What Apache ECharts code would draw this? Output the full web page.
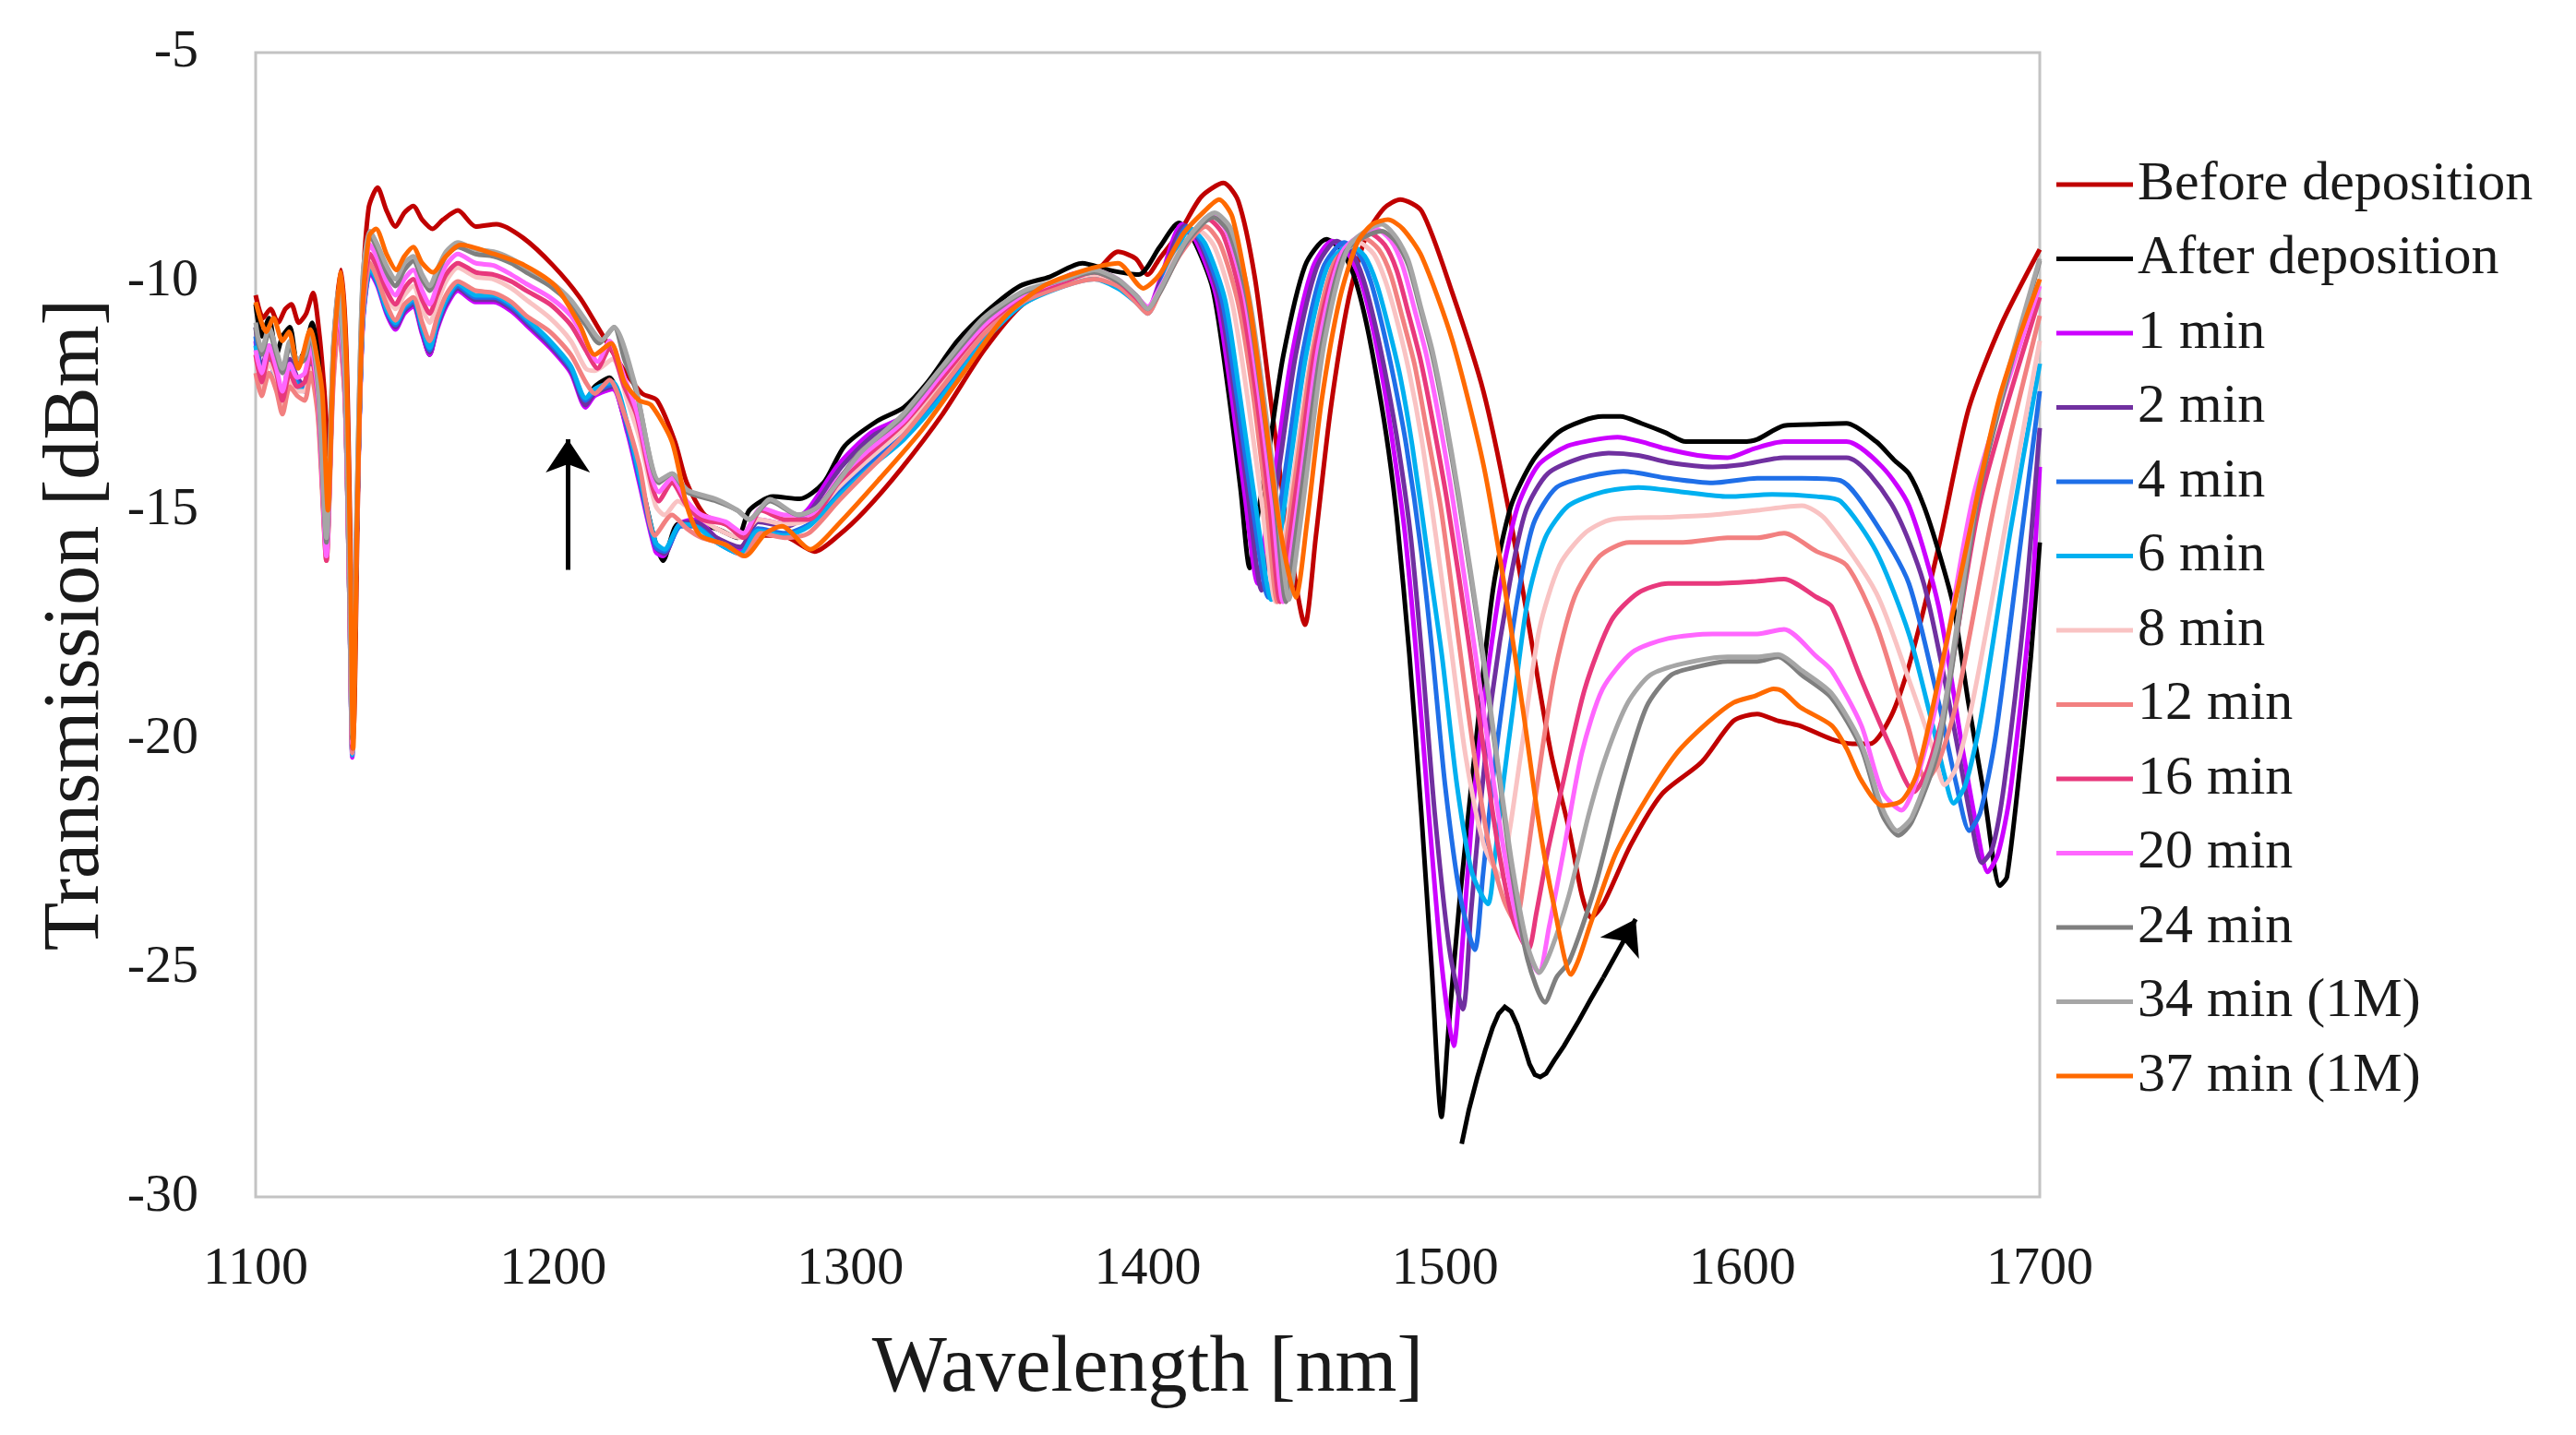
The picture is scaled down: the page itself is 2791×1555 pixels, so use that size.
<!DOCTYPE html>
<html>
<head>
<meta charset="utf-8">
<script src="https://cdn.jsdelivr.net/npm/echarts@6/dist/echarts.min.js"></script>
<style>
    html, body { margin: 0; padding: 0; background: #ffffff; }
    #chart { width: 2791px; height: 1555px; }
</style>
</head>
<body>
<div id="chart"></div>
<script>
// transmission spectra, [wavelength nm, dBm]
var before = [[1100,-10.3],[1102.5,-10.8],[1105,-10.6],[1107.5,-10.9],[1110,-10.6],[1112,-10.5],[1114.5,-10.9],[1117,-10.7],[1119.3,-10.25],[1121.5,-11.2],[1123,-12.3],[1124.7,-13.8],[1126.3,-11.3],[1128.7,-9.75],[1130.5,-11.5],[1131.8,-15.5],[1133,-19.7],[1134.3,-15.0],[1135.8,-10.5],[1138,-8.4],[1141,-7.95],[1144,-8.45],[1147,-8.8],[1150,-8.5],[1153,-8.35],[1156,-8.65],[1159.5,-8.85],[1163,-8.65],[1168,-8.45],[1174,-8.8],[1181,-8.75],[1190,-9.05],[1200,-9.65],[1209,-10.35],[1216,-11.1],[1224,-11.95],[1230,-12.45],[1235,-12.6],[1241,-13.5],[1245,-14.4],[1251,-15.1],[1258,-15.3],[1266,-15.55],[1277,-15.55],[1288,-15.9],[1296,-15.55],[1305,-15.0],[1317,-14.1],[1331,-12.9],[1345,-11.5],[1358,-10.5],[1372,-10.05],[1383,-9.75],[1390,-9.35],[1396,-9.5],[1400,-9.85],[1404,-9.5],[1411,-8.9],[1418,-8.15],[1425.5,-7.85],[1430.5,-8.25],[1436,-9.9],[1441,-12.4],[1447,-15.4],[1452.9,-17.5],[1456.5,-15.6],[1461.5,-12.8],[1467.5,-10.4],[1473.5,-9.0],[1479.5,-8.4],[1484.9,-8.21],[1492.2,-8.47],[1502.5,-10.26],[1512.9,-12.4],[1521.2,-14.92],[1528.4,-17.6],[1535.6,-20.3],[1541.8,-22.0],[1546,-23.4],[1549.1,-23.9],[1553.2,-23.6],[1562.5,-22.3],[1572.9,-21.2],[1586.3,-20.5],[1597,-19.6],[1605,-19.45],[1612,-19.6],[1619,-19.7],[1630,-20.0],[1637,-20.1],[1643,-20.1],[1650,-19.5],[1656,-18.4],[1666,-15.8],[1676,-12.8],[1687,-10.95],[1700,-9.3]];

var after = [[1100,-10.5],[1102,-11.2],[1104.5,-10.8],[1107,-11.6],[1109,-11.2],[1111.5,-11.0],[1114,-11.8],[1116.5,-11.5],[1119,-10.9],[1121.5,-12.0],[1123.8,-15.6],[1126,-12.0],[1128,-10.6],[1130,-12.2],[1131.5,-16.5],[1132.6,-20.2],[1134,-15.5],[1136,-10.8],[1138.5,-9.7],[1141,-10.0],[1144,-10.6],[1147,-11.0],[1150,-10.6],[1153,-10.5],[1156,-11.1],[1158.5,-11.6],[1161,-11.0],[1164,-10.5],[1168,-10.15],[1174,-10.4],[1180,-10.4],[1186,-10.6],[1191,-10.9],[1199,-11.35],[1206,-11.9],[1211,-12.6],[1214,-12.3],[1219,-12.1],[1224,-13.0],[1229,-14.2],[1234,-15.6],[1237,-16.1],[1242,-15.3],[1247,-15.3],[1255,-15.4],[1262,-15.6],[1266,-15.0],[1274,-14.7],[1283,-14.75],[1291,-14.4],[1298,-13.6],[1309,-13.05],[1318,-12.75],[1326,-12.2],[1336,-11.3],[1346,-10.65],[1357,-10.1],[1367,-9.9],[1378,-9.6],[1387,-9.75],[1397,-9.85],[1404,-9.25],[1410.5,-8.72],[1415.5,-9.1],[1421.9,-10.17],[1427,-12.34],[1431.2,-14.52],[1434.3,-16.26],[1437.3,-15.0],[1440.5,-13.8],[1445.6,-11.62],[1452.9,-9.66],[1460.1,-9.08],[1465,-9.3],[1469.4,-9.88],[1473.5,-10.9],[1477.7,-12.34],[1481,-13.7],[1483.9,-15.24],[1488,-18.15],[1492,-21.6],[1495.5,-25.0],[1498.8,-28.25],[1501.2,-26.3],[1504.8,-23.6],[1510,-20.3],[1516.2,-16.7],[1522.2,-14.9],[1529.7,-13.9],[1538,-13.3],[1546,-13.05],[1553,-12.95],[1559,-12.95],[1566,-13.1],[1574,-13.3],[1581,-13.5],[1590,-13.5],[1600,-13.5],[1605,-13.45],[1614,-13.15],[1625,-13.12],[1635,-13.1],[1645,-13.5],[1651,-13.9],[1656,-14.2],[1661,-14.9],[1666,-15.9],[1671,-17.1],[1676,-19.2],[1681.5,-21.3],[1686.6,-23.2],[1689,-23.0],[1694,-20.2],[1697,-18.2],[1700,-15.7]];

var min1 = [[1100,-11.3],[1102,-12.2],[1104.5,-11.6],[1107,-12.3],[1109,-12.6],[1111.5,-11.9],[1114,-12.3],[1116.5,-12.4],[1118.5,-11.9],[1121,-12.8],[1123.8,-15.9],[1126,-12.2],[1127.8,-10.9],[1130,-12.5],[1131.5,-16.8],[1132.5,-20.4],[1134,-15.5],[1136,-11.0],[1138.5,-9.8],[1141,-10.1],[1144,-10.7],[1147,-11.05],[1150,-10.7],[1153,-10.55],[1156,-11.15],[1158.5,-11.6],[1161,-11.05],[1164,-10.55],[1168,-10.2],[1174,-10.45],[1180,-10.45],[1186,-10.65],[1191,-10.95],[1199,-11.45],[1206,-12.0],[1211,-12.75],[1214,-12.5],[1220,-12.35],[1225,-13.3],[1229,-14.4],[1234.5,-15.9],[1237,-16.0],[1242.5,-15.3],[1248,-15.2],[1255,-15.6],[1263,-15.85],[1269,-15.2],[1278.5,-15.3],[1285.5,-15.0],[1296,-14.0],[1307,-13.3],[1318,-12.95],[1328,-12.3],[1338,-11.45],[1348,-10.75],[1358,-10.25],[1366,-10.15],[1374,-9.85],[1382,-9.8],[1390,-10.0],[1396,-10.3],[1400,-10.6],[1404,-10.0],[1411.5,-8.75],[1416.5,-9.15],[1423,-10.3],[1428,-12.4],[1432.5,-14.6],[1437,-16.6],[1440,-15.3],[1443.5,-13.8],[1448.5,-11.6],[1455.5,-9.7],[1462,-9.12],[1467,-9.35],[1471.5,-9.95],[1475.5,-10.95],[1479.5,-12.3],[1483,-13.8],[1486.5,-15.5],[1490.5,-18.3],[1494.5,-21.6],[1499,-25.0],[1502.9,-26.7],[1505.7,-24.6],[1508.7,-22.0],[1512.7,-19.4],[1519,-16.5],[1524.5,-14.9],[1531.5,-14.0],[1541,-13.6],[1551,-13.45],[1558,-13.4],[1566,-13.5],[1574,-13.65],[1585,-13.8],[1595,-13.85],[1604,-13.65],[1614,-13.5],[1625,-13.5],[1635,-13.5],[1647,-14.05],[1656,-14.9],[1666,-17.1],[1674,-20.2],[1679,-22.0],[1682.5,-22.9],[1686,-22.5],[1690,-21.2],[1697,-17.1],[1700,-14.05]];

var min2 = [[1100,-11.0],[1102,-11.9],[1104.5,-11.4],[1107,-12.1],[1109,-12.5],[1111.5,-11.7],[1114,-12.1],[1116.5,-12.3],[1118.5,-11.8],[1121,-12.7],[1123.8,-15.8],[1126,-12.1],[1127.8,-10.8],[1130,-12.4],[1131.5,-16.7],[1132.5,-20.3],[1134,-15.4],[1136,-10.9],[1138.5,-9.75],[1141,-10.05],[1144,-10.65],[1147,-11.0],[1150,-10.65],[1153,-10.5],[1156,-11.1],[1158.5,-11.55],[1161,-11.0],[1164,-10.5],[1168,-10.15],[1174,-10.4],[1180,-10.4],[1186,-10.6],[1191,-10.9],[1199,-11.4],[1206,-11.95],[1211,-12.7],[1214,-12.45],[1220,-12.3],[1225,-13.2],[1229,-14.3],[1234.5,-15.8],[1237.5,-15.95],[1242.5,-15.3],[1248,-15.25],[1255,-15.6],[1263,-15.8],[1269,-15.25],[1278.5,-15.35],[1286,-15.05],[1297,-14.05],[1308,-13.35],[1319,-13.0],[1329,-12.35],[1339,-11.5],[1349,-10.8],[1359,-10.3],[1367,-10.2],[1375,-9.9],[1382,-9.85],[1390,-10.05],[1396,-10.35],[1400,-10.65],[1404,-10.05],[1412.5,-8.78],[1417.5,-9.15],[1424,-10.35],[1429,-12.4],[1433.8,-14.7],[1438.3,-16.75],[1441.3,-15.4],[1444.8,-13.8],[1449.8,-11.6],[1456.8,-9.7],[1463.5,-9.12],[1468.5,-9.35],[1472.5,-9.95],[1476.5,-10.95],[1480.5,-12.2],[1484.5,-13.7],[1488.5,-15.6],[1492.5,-18.4],[1496.5,-21.6],[1501.5,-24.6],[1506,-25.9],[1508.7,-23.8],[1511.7,-21.6],[1515.7,-19.1],[1521.7,-16.6],[1527.2,-15.0],[1534.5,-14.2],[1546,-13.85],[1555,-13.75],[1565,-13.8],[1575,-13.95],[1590,-14.05],[1600,-14.0],[1614,-13.85],[1635,-13.85],[1650,-14.85],[1661,-16.6],[1671,-19.7],[1677,-21.8],[1680.5,-22.7],[1684,-22.4],[1688,-21.0],[1695,-17.1],[1700,-13.2]];

var min4 = [[1100,-11.2],[1102,-12.0],[1104.5,-11.5],[1107,-12.2],[1109,-12.6],[1111.5,-11.8],[1114,-12.2],[1116.5,-12.35],[1118.5,-11.85],[1121,-12.8],[1123.8,-15.8],[1126,-12.1],[1127.8,-10.85],[1130,-12.4],[1131.5,-16.7],[1132.5,-20.3],[1134,-15.4],[1136,-10.9],[1138.5,-9.75],[1141,-10.05],[1144,-10.65],[1147,-10.95],[1150,-10.6],[1153,-10.45],[1156,-11.05],[1158.5,-11.5],[1161,-10.95],[1164,-10.45],[1168,-10.1],[1174,-10.35],[1180,-10.35],[1186,-10.55],[1191,-10.85],[1199,-11.35],[1206,-11.9],[1211,-12.6],[1214,-12.4],[1220,-12.25],[1225,-13.2],[1229,-14.3],[1234.5,-15.8],[1237.5,-15.9],[1243,-15.35],[1248,-15.35],[1255,-15.7],[1263,-15.95],[1269,-15.4],[1278,-15.5],[1286,-15.3],[1296,-14.6],[1306,-14.0],[1318,-13.35],[1331,-12.4],[1345,-11.2],[1358,-10.45],[1372,-10.05],[1382,-9.9],[1390,-10.1],[1396,-10.4],[1400,-10.65],[1404,-10.15],[1413.5,-8.8],[1418.5,-9.2],[1425,-10.4],[1430,-12.5],[1435,-14.8],[1440.5,-16.9],[1443.3,-15.5],[1447,-13.8],[1452,-11.6],[1459,-9.7],[1466,-9.15],[1471,-9.4],[1475,-10.0],[1479,-11.0],[1483,-12.2],[1487,-13.6],[1492,-15.9],[1496,-18.3],[1500,-21.0],[1505,-23.4],[1510,-24.6],[1512.7,-23.0],[1515.7,-21.1],[1518.7,-19.5],[1524.2,-17.0],[1529.7,-15.3],[1537.5,-14.5],[1549,-14.25],[1560,-14.15],[1575,-14.3],[1590,-14.4],[1605,-14.3],[1620,-14.3],[1633,-14.35],[1645,-15.3],[1656,-16.6],[1666,-19.2],[1672,-21.0],[1676.3,-22.0],[1680,-21.6],[1685,-20.0],[1692,-16.5],[1700,-12.4]];

var min6 = [[1100,-11.4],[1102,-12.1],[1104.5,-11.6],[1107,-12.3],[1109,-12.7],[1111.5,-11.9],[1114,-12.3],[1116.5,-12.4],[1118.5,-11.9],[1121,-12.85],[1123.8,-15.9],[1126,-12.2],[1127.8,-10.9],[1130,-12.5],[1131.5,-16.8],[1132.5,-20.35],[1134,-15.4],[1136,-10.9],[1138.5,-9.7],[1141,-10.0],[1144,-10.6],[1147,-10.9],[1150,-10.55],[1153,-10.4],[1156,-11.0],[1158.5,-11.45],[1161,-10.9],[1164,-10.4],[1168,-10.05],[1174,-10.3],[1180,-10.3],[1186,-10.5],[1191,-10.8],[1199,-11.3],[1206,-11.85],[1211,-12.55],[1214,-12.35],[1220,-12.2],[1225,-13.1],[1229,-14.2],[1234.5,-15.7],[1237.5,-15.85],[1243,-15.3],[1248,-15.35],[1255,-15.7],[1263,-15.95],[1269,-15.45],[1278,-15.55],[1286,-15.35],[1296,-14.7],[1306,-14.1],[1318,-13.45],[1331,-12.5],[1345,-11.3],[1358,-10.5],[1372,-10.1],[1382,-9.95],[1390,-10.15],[1396,-10.45],[1400,-10.7],[1404,-10.2],[1414.5,-8.85],[1419.5,-9.2],[1426,-10.4],[1431,-12.5],[1436.3,-14.9],[1441.5,-16.95],[1444.5,-15.6],[1448.3,-13.8],[1453.3,-11.6],[1460.3,-9.7],[1468,-9.2],[1473,-9.45],[1477,-10.05],[1481,-11.0],[1485,-12.1],[1489,-13.6],[1494,-15.9],[1499,-18.2],[1504,-21.0],[1509,-22.9],[1514.4,-23.6],[1516.7,-22.6],[1519.7,-20.9],[1522.7,-19.4],[1527.7,-17.0],[1533.7,-15.6],[1541.5,-14.9],[1553,-14.6],[1565,-14.5],[1580,-14.6],[1595,-14.7],[1610,-14.65],[1625,-14.7],[1633,-14.8],[1645,-15.9],[1656,-17.7],[1664,-19.7],[1668,-20.8],[1671,-21.4],[1675,-21.0],[1680,-19.6],[1690,-15.5],[1700,-11.8]];

var min8 = [[1100,-11.6],[1102,-12.3],[1104.5,-11.8],[1107,-12.1],[1109,-12.75],[1111.5,-12.2],[1114,-12.4],[1116.5,-12.4],[1118.5,-11.9],[1121,-12.9],[1123.8,-16.0],[1126,-12.3],[1127.8,-10.9],[1130,-12.5],[1131.5,-16.8],[1132.5,-20.3],[1134,-15.4],[1136,-10.6],[1138.5,-9.5],[1141,-9.8],[1144,-10.3],[1147,-10.6],[1150,-10.3],[1153,-10.1],[1156,-10.6],[1158.5,-10.9],[1161,-10.5],[1164,-10.0],[1168,-9.7],[1174,-9.9],[1180,-9.95],[1186,-10.15],[1191,-10.4],[1199,-10.8],[1206,-11.3],[1211,-11.9],[1214,-11.95],[1220,-11.7],[1225,-12.6],[1229,-13.4],[1234.5,-14.9],[1237.5,-15.1],[1242,-14.8],[1248,-15.1],[1255,-15.4],[1263,-15.6],[1269,-15.2],[1278,-15.3],[1286,-15.2],[1296,-14.5],[1305,-13.95],[1318,-13.2],[1331,-12.2],[1345,-11.05],[1358,-10.35],[1372,-10.0],[1382,-9.85],[1390,-10.05],[1396,-10.4],[1400,-10.65],[1404,-10.2],[1410,-9.4],[1417.5,-8.9],[1422.5,-9.25],[1428.5,-10.5],[1433.5,-12.5],[1438.5,-14.9],[1443,-17.0],[1446,-15.7],[1450,-13.8],[1455,-11.6],[1462,-9.7],[1471,-9.15],[1476,-9.4],[1480,-10.0],[1484,-10.9],[1488,-12.0],[1492,-13.4],[1497,-15.6],[1502,-18.0],[1507,-20.4],[1513,-22.3],[1518.7,-23.0],[1521.7,-22.0],[1526.2,-20.0],[1531.7,-17.6],[1538.5,-16.2],[1547,-15.5],[1556,-15.2],[1575,-15.15],[1590,-15.1],[1605,-15.0],[1620,-14.9],[1628,-15.2],[1645,-16.8],[1656,-18.7],[1664,-20.2],[1668,-21.0],[1672,-20.6],[1678,-19.0],[1690,-14.8],[1700,-11.3]];

var min12 = [[1100,-12.0],[1102,-12.5],[1104.5,-12.0],[1107,-12.4],[1109,-12.9],[1111.5,-12.3],[1114,-12.5],[1116.5,-12.6],[1118.5,-12.0],[1121,-13.0],[1123.8,-16.1],[1126,-12.4],[1127.8,-11.0],[1130,-12.6],[1131.5,-16.8],[1132.5,-20.3],[1134,-15.4],[1136,-10.8],[1138.5,-9.6],[1141,-9.95],[1144,-10.5],[1147,-10.85],[1150,-10.5],[1153,-10.35],[1156,-10.9],[1158.5,-11.3],[1161,-10.8],[1164,-10.3],[1168,-10.0],[1174,-10.2],[1180,-10.25],[1186,-10.45],[1191,-10.75],[1199,-11.1],[1206,-11.6],[1211,-12.2],[1214,-12.45],[1219,-12.15],[1224,-12.9],[1229,-14.0],[1234.3,-15.55],[1240,-15.1],[1245,-15.4],[1250,-15.6],[1258,-15.75],[1264,-16.0],[1270,-15.5],[1278,-15.6],[1286,-15.5],[1296,-14.8],[1305,-14.2],[1318,-13.35],[1331,-12.3],[1345,-11.15],[1358,-10.45],[1372,-10.1],[1382,-9.95],[1390,-10.1],[1396,-10.45],[1400,-10.7],[1404,-10.25],[1411,-9.4],[1419.5,-8.8],[1424.5,-9.2],[1430.5,-10.5],[1435.5,-12.5],[1440,-14.9],[1443.6,-17.0],[1446.6,-15.7],[1450.6,-13.8],[1455.6,-11.5],[1462.6,-9.6],[1472.7,-9.05],[1477.7,-9.3],[1481.7,-9.85],[1485.7,-10.8],[1489.7,-11.8],[1493.7,-13.2],[1498.7,-15.0],[1504.7,-17.9],[1509.7,-20.3],[1514.7,-22.3],[1519.7,-23.5],[1523.7,-24.0],[1526.7,-23.0],[1531.2,-20.9],[1536.7,-18.6],[1543.5,-16.9],[1552,-16.0],[1562,-15.7],[1580,-15.7],[1595,-15.6],[1605,-15.6],[1614,-15.5],[1625,-15.9],[1635,-16.2],[1645,-17.5],[1655.6,-19.7],[1661.8,-20.9],[1666,-20.5],[1672,-19.2],[1685,-14.8],[1700,-10.75]];

var min16 = [[1100,-11.6],[1102,-12.2],[1104.5,-11.6],[1107,-12.0],[1109,-12.6],[1111.5,-12.0],[1114,-12.3],[1116.5,-12.2],[1118.5,-11.6],[1121,-12.6],[1123.8,-16.1],[1126,-12.0],[1127.8,-10.7],[1130,-12.4],[1131.5,-16.7],[1132.5,-20.2],[1134,-15.3],[1136,-10.5],[1138.5,-9.4],[1141,-9.7],[1144,-10.2],[1147,-10.5],[1150,-10.15],[1153,-9.95],[1156,-10.4],[1158.5,-10.7],[1161,-10.3],[1164,-9.85],[1168,-9.6],[1174,-9.8],[1180,-9.85],[1186,-10.0],[1191,-10.2],[1199,-10.5],[1206,-10.95],[1211,-11.5],[1215,-11.9],[1219,-11.45],[1224,-12.3],[1228,-12.9],[1235.7,-14.8],[1240,-14.4],[1245,-14.9],[1250,-15.2],[1258,-15.3],[1264,-15.6],[1270,-15.0],[1278,-15.2],[1286,-15.2],[1296,-14.4],[1305,-13.85],[1318,-13.1],[1331,-12.1],[1345,-11.0],[1358,-10.35],[1372,-10.0],[1382,-9.8],[1390,-10.0],[1396,-10.35],[1400,-10.6],[1404,-10.2],[1412,-9.25],[1420.5,-8.65],[1425.5,-9.0],[1431.5,-10.4],[1436.5,-12.5],[1441,-14.9],[1444.5,-17.0],[1447.5,-15.7],[1451.5,-13.8],[1456.5,-11.4],[1464.5,-9.45],[1474.7,-8.95],[1479.7,-9.2],[1483.7,-9.75],[1487.7,-10.7],[1491.7,-11.7],[1495.7,-13.0],[1500.7,-14.8],[1508,-17.9],[1512.7,-20.1],[1517.7,-22.3],[1522.7,-23.9],[1528,-24.6],[1530.7,-23.8],[1534.7,-22.4],[1539.5,-21.0],[1547,-18.9],[1556,-17.4],[1565,-16.8],[1575,-16.6],[1590,-16.6],[1605,-16.55],[1614,-16.5],[1625,-16.9],[1630,-17.1],[1640,-18.7],[1650,-20.2],[1657.7,-21.15],[1662,-20.7],[1668,-19.3],[1680,-14.8],[1700,-10.35]];

var min20 = [[1100,-11.5],[1102,-12.0],[1104.5,-11.4],[1107,-11.9],[1109,-12.4],[1111.5,-11.8],[1114,-12.1],[1116.5,-12.0],[1118.5,-11.4],[1121,-12.5],[1123.8,-16.0],[1126,-11.9],[1127.8,-10.6],[1130,-12.3],[1131.5,-16.6],[1132.5,-20.1],[1134,-15.2],[1136,-10.3],[1138.5,-9.2],[1141,-9.5],[1144,-10.0],[1147,-10.3],[1150,-9.95],[1153,-9.75],[1156,-10.2],[1158.5,-10.5],[1161,-10.1],[1164,-9.65],[1168,-9.4],[1174,-9.6],[1180,-9.65],[1186,-9.85],[1191,-10.05],[1199,-10.35],[1206,-10.75],[1211,-11.3],[1215,-11.75],[1219,-11.3],[1224,-12.1],[1228,-12.8],[1235.7,-14.6],[1240,-14.3],[1245,-14.8],[1250,-15.1],[1258,-15.25],[1264,-15.5],[1270,-14.95],[1278,-15.1],[1286,-15.1],[1296,-14.3],[1305,-13.75],[1318,-13.05],[1331,-12.0],[1345,-10.95],[1358,-10.3],[1372,-9.95],[1382,-9.75],[1390,-9.95],[1396,-10.3],[1400,-10.55],[1404,-10.15],[1413,-9.15],[1421.5,-8.55],[1426.5,-8.9],[1432.5,-10.3],[1437.5,-12.5],[1442,-14.9],[1445.5,-17.0],[1448.5,-15.8],[1452.5,-13.8],[1457.5,-11.4],[1465.5,-9.35],[1476.7,-8.85],[1481.7,-9.1],[1485.7,-9.65],[1489.7,-10.6],[1493.7,-11.6],[1497.7,-12.9],[1502.7,-14.8],[1509.7,-17.9],[1514.7,-20.2],[1519.7,-22.4],[1524.7,-24.1],[1531.5,-25.1],[1535,-24.1],[1540,-22.4],[1546,-20.3],[1553,-18.9],[1563,-18.1],[1575,-17.8],[1590,-17.7],[1605,-17.7],[1614,-17.6],[1625,-18.2],[1630,-18.5],[1640,-19.7],[1647,-21.15],[1653.5,-21.55],[1658,-21.0],[1665,-19.3],[1678,-14.6],[1700,-10.1]];

var min24 = [[1100,-11.0],[1102,-11.6],[1104.5,-11.1],[1107,-11.6],[1109,-12.0],[1111.5,-11.4],[1114,-11.8],[1116.5,-11.7],[1118.5,-11.2],[1121,-12.3],[1123.8,-15.7],[1126,-11.6],[1127.8,-10.3],[1130,-12.1],[1131.5,-16.4],[1132.5,-20.0],[1134,-15.0],[1136,-10.0],[1138.5,-9.0],[1141,-9.3],[1144,-9.8],[1147,-10.1],[1150,-9.75],[1153,-9.55],[1156,-9.95],[1158.5,-10.2],[1161,-9.85],[1164,-9.45],[1168,-9.25],[1174,-9.4],[1180,-9.45],[1186,-9.6],[1191,-9.8],[1199,-10.1],[1206,-10.5],[1211,-10.95],[1215.5,-11.35],[1220.5,-11.0],[1224,-11.7],[1228,-12.4],[1235.7,-14.4],[1240,-14.2],[1245,-14.6],[1255,-14.8],[1262,-15.0],[1266,-15.2],[1273,-14.8],[1282.5,-15.1],[1289.5,-14.9],[1303,-13.75],[1317,-13.0],[1331,-11.9],[1345,-10.85],[1358,-10.25],[1372,-9.95],[1382,-9.8],[1390,-10.0],[1396,-10.3],[1400,-10.6],[1404,-10.25],[1413,-9.15],[1422,-8.6],[1427.5,-8.95],[1433.5,-10.4],[1438.5,-12.6],[1443,-14.9],[1446.5,-17.0],[1449.5,-15.7],[1453.5,-13.7],[1458.5,-11.4],[1466.5,-9.35],[1478.7,-8.9],[1483.7,-9.15],[1487.7,-9.65],[1491.7,-10.6],[1495.7,-11.6],[1499.7,-12.9],[1504.7,-14.8],[1512.7,-18.2],[1517.7,-20.6],[1522.7,-23.0],[1527.7,-24.8],[1533.6,-25.75],[1537.5,-25.2],[1541.8,-24.85],[1550.1,-23.3],[1559.4,-21.0],[1567.7,-19.3],[1576,-18.6],[1586,-18.4],[1595,-18.3],[1605,-18.3],[1612,-18.2],[1620,-18.6],[1630,-19.1],[1640,-20.2],[1647,-21.65],[1652.5,-22.1],[1657,-21.8],[1666,-20.2],[1680,-14.5],[1700,-9.55]];

var min34 = [[1100,-10.9],[1102,-11.5],[1104.5,-11.0],[1107,-11.5],[1109,-11.9],[1111.5,-11.3],[1114,-11.7],[1116.5,-11.6],[1118.5,-11.1],[1121,-12.2],[1123.8,-15.6],[1126,-11.5],[1127.8,-10.2],[1130,-12.0],[1131.5,-16.3],[1132.5,-19.9],[1134,-14.9],[1136,-9.9],[1138.5,-8.9],[1141,-9.2],[1144,-9.65],[1147,-9.95],[1150,-9.6],[1153,-9.45],[1156,-9.85],[1158.5,-10.1],[1161,-9.75],[1164,-9.35],[1168,-9.15],[1174,-9.3],[1180,-9.35],[1186,-9.5],[1191,-9.7],[1199,-10.0],[1206,-10.4],[1211,-10.85],[1216.4,-11.28],[1220.5,-11.0],[1227.4,-12.2],[1235.7,-14.35],[1240,-14.2],[1245.3,-14.56],[1255,-14.76],[1262,-15.0],[1266,-15.2],[1273,-14.76],[1282.6,-15.1],[1289.5,-14.9],[1303.3,-13.75],[1317,-12.95],[1331,-11.85],[1344.7,-10.8],[1358.5,-10.2],[1372,-9.95],[1382,-9.75],[1390,-9.95],[1396,-10.3],[1400,-10.6],[1404,-10.2],[1413,-9.1],[1422.5,-8.5],[1428,-8.85],[1434,-10.3],[1439,-12.5],[1443.5,-14.8],[1447.5,-16.95],[1450.5,-15.7],[1454.5,-13.7],[1459.5,-11.3],[1467.5,-9.25],[1478.7,-8.75],[1483.7,-9.05],[1487.7,-9.55],[1492,-10.6],[1495.7,-11.5],[1499.7,-12.8],[1504.7,-14.7],[1512.7,-18.1],[1517.7,-20.5],[1522.7,-22.8],[1527.7,-24.5],[1531.7,-25.1],[1535.7,-24.6],[1541.7,-23.4],[1548.5,-21.6],[1554.5,-20.3],[1561.5,-19.2],[1569,-18.6],[1580,-18.35],[1595,-18.2],[1605,-18.2],[1612,-18.15],[1620,-18.5],[1630,-19.0],[1640,-20.1],[1647,-21.5],[1652,-22.0],[1657,-21.7],[1666,-20.0],[1680,-14.3],[1700,-9.5]];

var min37 = [[1100,-10.45],[1102,-10.9],[1103.5,-11.1],[1106,-10.8],[1109,-11.3],[1111.2,-11.1],[1114.3,-11.9],[1118.4,-11.05],[1121,-11.8],[1122.5,-12.5],[1124.3,-15.0],[1126.3,-11.5],[1128.7,-9.8],[1130.5,-11.8],[1131.8,-16.0],[1132.8,-20.2],[1134.2,-15.0],[1136,-10.5],[1138.2,-9.0],[1140.5,-8.85],[1144,-9.4],[1147.3,-9.75],[1150,-9.45],[1153,-9.25],[1156,-9.6],[1159.6,-9.8],[1164,-9.45],[1168.9,-9.2],[1180.2,-9.4],[1190.5,-9.65],[1200.8,-10.1],[1209,-10.95],[1214,-11.6],[1219.5,-11.35],[1224,-12.2],[1229,-12.6],[1233,-12.7],[1240,-13.5],[1245,-14.9],[1249.5,-15.55],[1258,-15.75],[1264.5,-16.0],[1271.5,-15.5],[1277,-15.35],[1286.5,-15.85],[1296,-15.3],[1310,-14.3],[1324,-13.25],[1338,-12.0],[1351.5,-10.8],[1365,-10.1],[1379,-9.75],[1390,-9.6],[1398.5,-10.15],[1404,-9.85],[1412,-8.95],[1418.5,-8.5],[1424,-8.21],[1428.5,-8.6],[1434.5,-10.6],[1439.5,-13.0],[1444.5,-15.4],[1449.8,-16.9],[1453.5,-15.3],[1458.5,-12.6],[1464.5,-10.4],[1470.5,-9.15],[1475.5,-8.75],[1480.8,-8.65],[1485.8,-8.85],[1492.2,-9.46],[1502.5,-11.3],[1512.9,-14.0],[1520.1,-16.7],[1526.3,-19.4],[1531.5,-21.8],[1536.5,-23.6],[1542.4,-25.14],[1545,-24.8],[1549.1,-24.0],[1557.4,-22.5],[1567.7,-21.3],[1578,-20.3],[1588.4,-19.63],[1597,-19.2],[1604.5,-19.05],[1610.5,-18.9],[1613.5,-18.95],[1619.4,-19.3],[1630,-19.7],[1635,-20.2],[1640,-20.9],[1647,-21.45],[1653.5,-21.35],[1658.7,-20.75],[1666,-18.7],[1676,-15.6],[1686.6,-12.5],[1700,-9.95]];

var seriesNames = ['Before deposition', 'After deposition', '1 min', '2 min', '4 min', '6 min', '8 min',
    '12 min', '16 min', '20 min', '24 min', '34 min (1M)', '37 min (1M)'];
var seriesColors = ['#c00000', '#000000', '#cc00ff', '#7030a0', '#1f6fe8', '#00b0f0', '#f9c3c3',
    '#f28080', '#e8387c', '#ff66ff', '#7f7f7f', '#a6a6a6', '#ff6a00'];
var seriesData = [before, after, min1, min2, min4, min6, min8, min12, min16, min20, min24, min34, min37];

// arrows drawn on the figure
var straightArrow = [[1205, -16.3], [1205, -13.45]];
var curvedArrow = [[1505.6,-28.84],[1508,-28.1],[1510.8,-27.4],[1513.5,-26.8],[1516,-26.3],[1518,-26.0],[1520.1,-25.85],[1522.2,-25.95],[1524.3,-26.25],[1526.5,-26.7],[1528.4,-27.1],[1530.2,-27.33],[1532,-27.38],[1534,-27.3],[1536.7,-27.02],[1540,-26.7],[1545,-26.15],[1549,-25.68],[1553.2,-25.21]];
var arrowHead = [[1553.2,-25.21], [1564.1,-23.93]];

var fontName = 'Liberation Serif';

var buildSeries = function () {
    var list = [];
    for (var i = 0; i < seriesData.length; i++) {
        list.push({
            name: seriesNames[i],
            type: 'line',
            data: seriesData[i],
            smooth: 0.25,
            symbol: 'none',
            lineStyle: { color: seriesColors[i], width: 5 },
            itemStyle: { color: seriesColors[i] },
            z: 2 + i
        });
    }
    list.push({
        type: 'lines',
        coordinateSystem: 'cartesian2d',
        polyline: true,
        silent: true,
        z: 30,
        lineStyle: { color: '#000000', width: 5, opacity: 1 },
        data: [{ coords: curvedArrow }]
    });
    list.push({
        type: 'lines',
        coordinateSystem: 'cartesian2d',
        silent: true,
        z: 30,
        symbol: ['none', 'arrow'],
        symbolSize: 36,
        lineStyle: { color: '#000000', width: 5, opacity: 1, curveness: 0 },
        data: [{ coords: straightArrow }, { coords: arrowHead }]
    });
    return list;
}

var chart = echarts.init(document.getElementById('chart'));
var option = {
    backgroundColor: '#ffffff',
    animation: false,
    grid: {
        left: 277,
        right: 581,
        top: 57,
        bottom: 258,
        show: true,
        borderColor: '#c3c3c3',
        borderWidth: 3
    },
    legend: {
        orient: 'vertical',
        left: 2228,
        top: 170,
        padding: 0,
        icon: 'rect',
        itemWidth: 83,
        itemHeight: 5,
        itemGap: 20.5,
        data: seriesNames,
        textStyle: { fontFamily: fontName, fontSize: 60, lineHeight: 60, color: '#1a1a1a' }
    },
    xAxis: {
        type: 'value',
        min: 1100,
        max: 1700,
        interval: 100,
        axisLine: { show: false },
        axisTick: { show: false },
        splitLine: { show: false },
        axisLabel: {
            fontFamily: fontName, fontSize: 58, color: '#1a1a1a', margin: 50,
            formatter: function (v) { return String(v); }
        },
        name: 'Wavelength [nm]',
        nameLocation: 'middle',
        nameGap: 144,
        nameTextStyle: { fontFamily: fontName, fontSize: 86, color: '#1a1a1a' }
    },
    yAxis: {
        type: 'value',
        min: -30,
        max: -5,
        interval: 5,
        axisLine: { show: false },
        axisTick: { show: false },
        splitLine: { show: false },
        axisLabel: { fontFamily: fontName, fontSize: 58, color: '#1a1a1a', margin: 62 },
        name: 'Transmission [dBm]',
        nameLocation: 'middle',
        nameGap: 150,
        nameTextStyle: { fontFamily: fontName, fontSize: 86, color: '#1a1a1a' }
    },
    series: buildSeries()
};
chart.setOption(option);
</script>
</body>
</html>
